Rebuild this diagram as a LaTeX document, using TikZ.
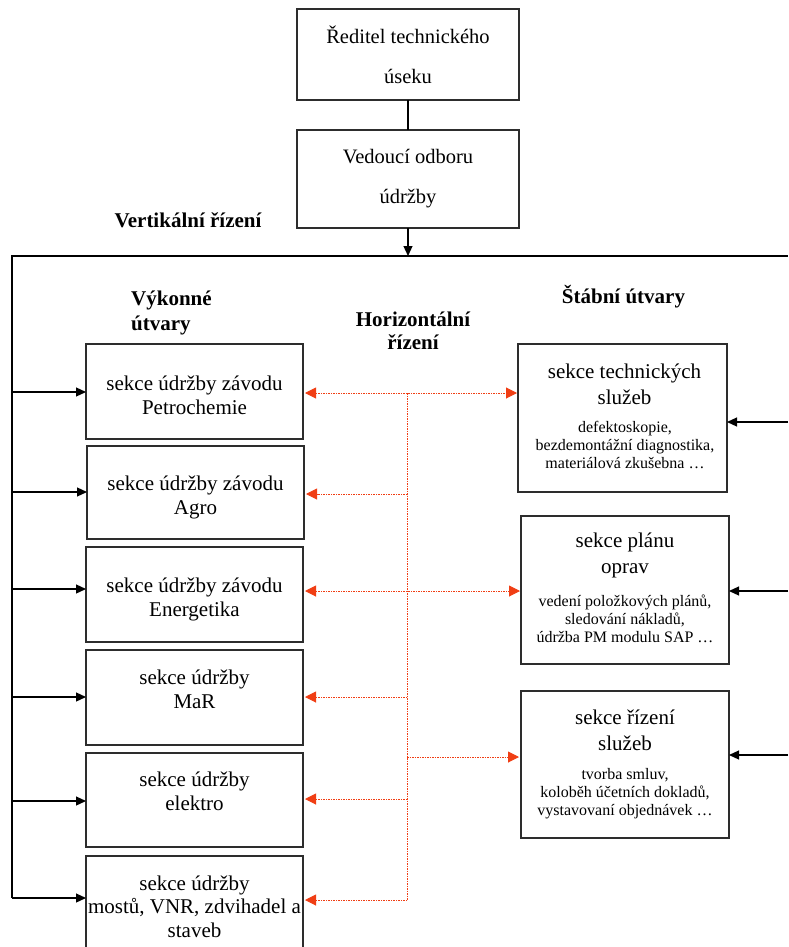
\documentclass[tikz,border=0pt]{standalone}
\usepackage{fontspec}
\setmainfont{Liberation Serif}
\usetikzlibrary{arrows.meta}
\definecolor{hzred}{RGB}{240,62,20}
\definecolor{boxline}{RGB}{45,45,45}

\begin{document}
\begin{tikzpicture}[x=1pt,y=-1pt,
  box/.style={draw=boxline, line width=1.2pt, inner sep=0pt, outer sep=0pt},
  body/.style={font=\fontsize{21}{24}\selectfont, align=center, inner sep=0pt},
  topbody/.style={font=\fontsize{20.5}{40}\selectfont, align=center, inner sep=0pt},
  title/.style={font=\fontsize{21}{26}\selectfont, align=center, inner sep=0pt},
  small/.style={font=\fontsize{16}{18}\selectfont, align=center, inner sep=0pt},
  hdr/.style={font=\bfseries\fontsize{21}{24}\selectfont, inner sep=0pt},
  conn/.style={draw=black, line width=1.2pt},
  arr/.style={conn, -{Triangle[length=10pt,width=9pt]}},
  hz/.style={draw=hzred, line width=1pt, dash pattern=on 1.5pt off 1pt},
  hzarr/.style={hz, -{Triangle[length=11pt,width=11pt]}, shorten >=2pt},
  hzboth/.style={hz, {Triangle[length=11pt,width=11pt]}-{Triangle[length=11pt,width=11pt]}, shorten >=1pt, shorten <=2pt}
]
\useasboundingbox (0,0) rectangle (788,947);

% management chain
\node[box, minimum width=222pt, minimum height=91pt, topbody] (t1) at (408,54.5)
  {Ředitel technického\\úseku};
\node[box, minimum width=222pt, minimum height=98pt, topbody] (t2) at (408,179)
  {Vedoucí odboru\\údržby};
\draw[conn] (t1) -- (t2);

% frame of the department
\coordinate (ftl) at (12,256);
\coordinate (fbl) at (12,898);
\coordinate (ftr) at (788,256);
\draw[conn] (fbl) -- (ftl) -- (ftr);
\draw[arr] (t2.south) -- (t2.south |- ftl);

% headings
\node[hdr] (vert) at (188,220) {Vertikální řízení};
\node[hdr, font=\bfseries\fontsize{21}{25}\selectfont, align=left, anchor=west] (vyk) at (131,312.5) {Výkonné\\útvary};
\node[hdr, font=\bfseries\fontsize{21}{23}\selectfont, align=center] (horiz) at (413,330.5) {Horizontální\\řízení};
\node[hdr] (stab) at (623.5,297) {Štábní útvary};

% executive sections
\node[box, minimum width=217pt, minimum height=95pt] (l1) at (194.5,391.5) {};
\node[box, minimum width=217pt, minimum height=93pt] (l2) at (195.5,492.5) {};
\node[box, minimum width=217pt, minimum height=95pt] (l3) at (194.5,594.5) {};
\node[box, minimum width=217pt, minimum height=95pt] (l4) at (194.5,697.5) {};
\node[box, minimum width=217pt, minimum height=94pt] (l5) at (194.5,800) {};
\node[box, minimum width=217pt, minimum height=100pt] (l6) at (194.5,906) {};

\node[body] (l1t) at (194.5,395) {sekce údržby závodu\\Petrochemie};
\node[body] (l2t) at (195.5,497) {sekce údržby závodu\\Agro};
\node[body] (l3t) at (194.5,599) {sekce údržby závodu\\Energetika};
\node[body] (l4t) at (194.5,689.5) {sekce údržby\\MaR};
\node[body] (l5t) at (194.5,791.5) {sekce údržby\\elektro};
\node[body, font=\fontsize{21}{23.5}\selectfont] (l6t) at (194.5,906.5) {sekce údržby\\mostů, VNR, zdvihadel a\\staveb};

% staff sections
\node[box, minimum width=209pt, minimum height=148pt] (r1) at (622.5,418) {};
\node[box, minimum width=208pt, minimum height=148pt] (r2) at (625,590) {};
\node[box, minimum width=208pt, minimum height=147pt] (r3) at (625,764.5) {};

\node[title] (r1t) at (624.5,384) {sekce technických\\služeb};
\node[small] (r1s) at (625,445) {defektoskopie,\\bezdemontážní diagnostika,\\materiálová zkušebna …};
\node[title] (r2t) at (625,555.5) {sekce plánu\\oprav};
\node[small] (r2s) at (625,618.5) {vedení položkových plánů,\\sledování nákladů,\\údržba PM modulu SAP …};
\node[title] (r3t) at (625,730) {sekce řízení\\služeb};
\node[small] (r3s) at (625,793.5) {tvorba smluv,\\koloběh účetních dokladů,\\vystavovaní objednávek …};

% vertical control: arrows from the frame
\foreach \n/\y in {1/392,2/492,3/589,4/697,5/801,6/898}{
  \coordinate (a\n) at (12,\y);
  \draw[arr] (a\n) -- (a\n -| l\n.west);
}
\foreach \n/\y in {1/422,2/591,3/755}{
  \coordinate (b\n) at (788,\y);
  \draw[arr] (b\n) -- (b\n -| r\n.east);
}

% horizontal control: dotted links
\coordinate (h1) at (407,393);
\coordinate (h2) at (407,494);
\coordinate (h3) at (407,591);
\coordinate (h4) at (407,697);
\coordinate (h5) at (407,757);
\coordinate (h6) at (407,799);
\coordinate (h7) at (407,900);
\draw[hz] (h1) -- (h7);
\draw[hzboth] (h1 -| l1.east) -- (h1 -| r1.west);
\draw[hzboth] (h3 -| l3.east) -- (h3 -| r2.west);
\draw[hzarr] (h2) -- (h2 -| l2.east);
\draw[hzarr] (h4) -- (h4 -| l4.east);
\draw[hzarr] (h6) -- (h6 -| l5.east);
\draw[hzarr] (h7) -- (h7 -| l6.east);
\draw[hzarr] (h5) -- (h5 -| r3.west);
\end{tikzpicture}
\end{document}
